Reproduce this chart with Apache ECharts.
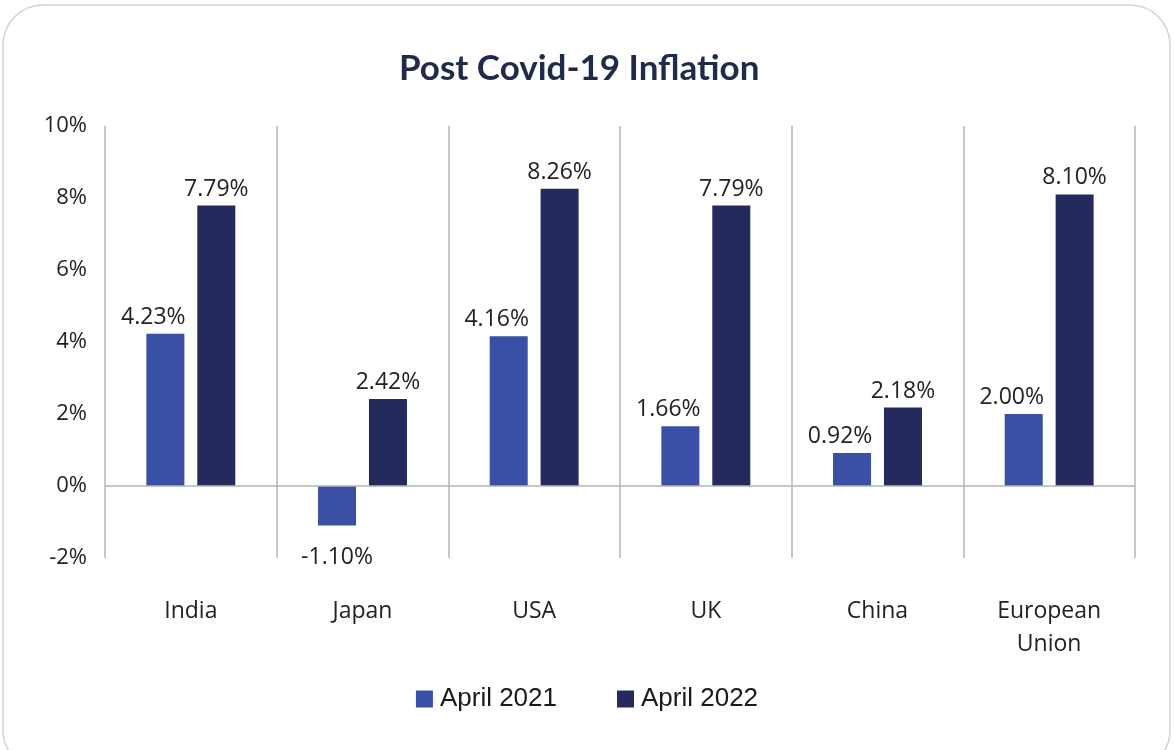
<!DOCTYPE html>
<html>
<head>
<meta charset="utf-8">
<script src="https://cdn.jsdelivr.net/npm/echarts@6/dist/echarts.min.js"></script>
<style>
  html, body { margin: 0; padding: 0; background: #ffffff; }
  #chart { width: 1174px; height: 750px; }
</style>
</head>
<body>
<div id="chart"></div>
<script>
// Inflation figures by economy (percent)
const categories = ['India', 'Japan', 'USA', 'UK', 'China', 'European\nUnion'];
const april2021 = [4.23, -1.10, 4.16, 1.66, 0.92, 2.00];
const april2022 = [7.79, 2.42, 8.26, 7.79, 2.18, 8.10];
const seriesNames = ['April 2021', 'April 2022'];

const chart = echarts.init(document.getElementById('chart'));

const labelFont = {
  fontFamily: 'Open Sans',
  fontSize: 23,
  color: '#222222'
};

// negative bars carry their label beneath the bar; positive labels of the
// first series lean slightly left, away from the neighbouring bar
function withLabels(values, shift) {
  return values.map(v => ({
    value: v,
    label: v < 0
      ? { position: 'bottom', distance: 20 }
      : { position: 'top', offset: [shift, 0] }
  }));
}

chart.setOption({
  animation: false,
  backgroundColor: '#ffffff',
  graphic: [{
    type: 'rect',
    z: -10,
    shape: { x: 3, y: 5, width: 1167, height: 765, r: 40 },
    style: { fill: '#ffffff', stroke: '#d3d3d3', lineWidth: 1.5 }
  }],
  title: {
    text: 'Post Covid-19 Inflation',
    left: 394,
    top: 46,
    textStyle: {
      fontFamily: 'Lato',
      fontWeight: 'bold',
      fontSize: 35,
      color: '#1f2b48'
    }
  },
  legend: {
    bottom: 33,
    left: 'center',
    itemWidth: 17,
    itemHeight: 17,
    itemGap: 60,
    icon: 'rect',
    textStyle: {
      fontFamily: 'Liberation Sans',
      fontSize: 26,
      color: '#1a1a1a',
      padding: [0, 0, 0, 2]
    },
    data: seriesNames
  },
  grid: {
    left: 105,
    right: 39,
    top: 126,
    bottom: 192
  },
  xAxis: {
    type: 'category',
    data: categories,
    position: 'bottom',
    axisLine: { show: false, onZero: false },
    axisTick: { show: false },
    splitLine: {
      show: true,
      interval: 0,
      lineStyle: { color: '#b5b5b5', width: 1.5 }
    },
    axisLabel: {
      margin: 37,
      interval: 0,
      fontFamily: 'Open Sans',
      fontSize: 23,
      lineHeight: 33,
      color: '#222222'
    }
  },
  yAxis: {
    type: 'value',
    min: -2,
    max: 10,
    interval: 2,
    axisLine: { show: false },
    axisTick: { show: false },
    splitLine: { show: false },
    axisLabel: {
      margin: 18,
      formatter: '{value}%',
      fontFamily: 'Open Sans',
      fontSize: 22,
      color: '#222222'
    }
  },
  series: [
    {
      name: seriesNames[0],
      type: 'bar',
      data: withLabels(april2021, -12),
      barWidth: 38,
      barGap: '34%',
      itemStyle: { color: '#3a4fa6' },
      label: {
        show: true,
        distance: 5,
        formatter: p => p.value.toFixed(2) + '%',
        ...labelFont
      },
      markLine: {
        silent: true,
        symbol: 'none',
        label: { show: false },
        lineStyle: { color: '#b5b5b5', type: 'solid', width: 1.5 },
        data: [{ yAxis: 0 }]
      }
    },
    {
      name: seriesNames[1],
      type: 'bar',
      data: withLabels(april2022, 0),
      barWidth: 38,
      itemStyle: { color: '#252a5c' },
      label: {
        show: true,
        distance: 5,
        formatter: p => p.value.toFixed(2) + '%',
        ...labelFont
      }
    }
  ]
});
</script>
</body>
</html>
